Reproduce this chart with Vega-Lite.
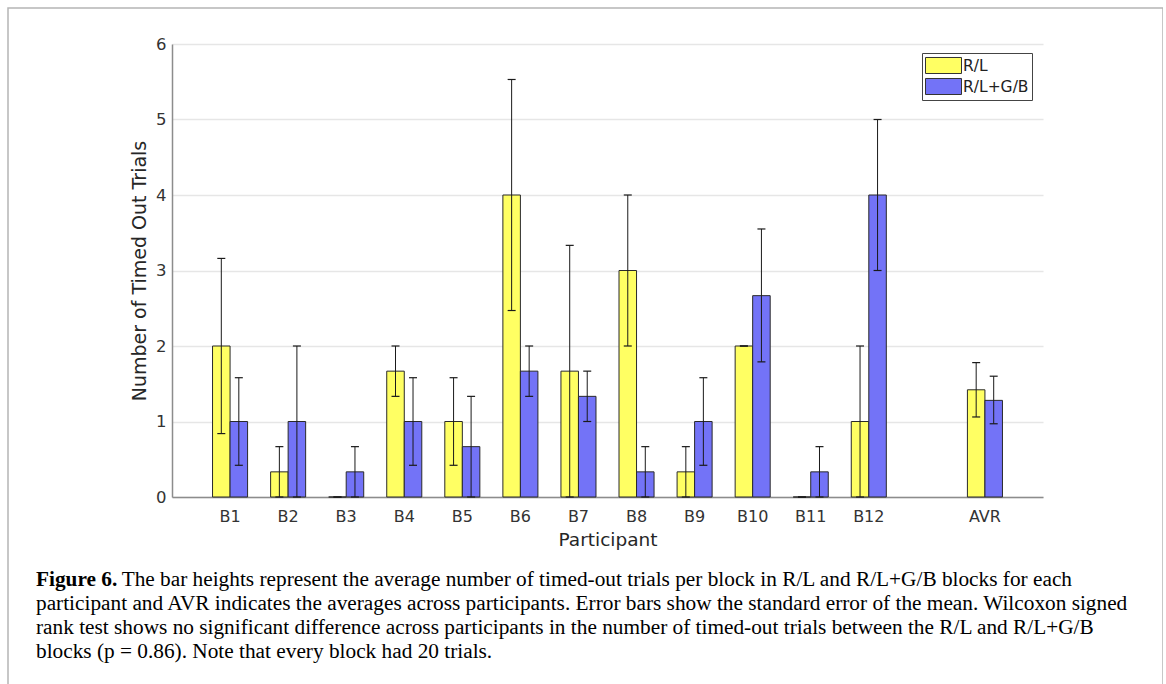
{
  "$schema": "https://vega.github.io/schema/vega-lite/v6.json",
  "width": 1155,
  "height": 700,
  "autosize": {"type": "none"},
  "padding": {"left": 8, "top": 8, "right": 0, "bottom": 0},
  "background": "white",
  "config": {
    "view": {"stroke": "#b5b5b5", "strokeWidth": 1.5}
  },
  "title": {
    "text": "Figure 6.",
    "subtitle": [
      "\u2800\u2800\u2800\u2800\u2800\u00a0 The bar heights represent the average number of timed-out trials per block in R/L and R/L+G/B blocks for each",
      "participant and AVR indicates the averages across participants. Error bars show the standard error of the mean. Wilcoxon signed",
      "rank test shows no significant difference across participants in the number of timed-out trials between the R/L and R/L+G/B",
      "blocks (p = 0.86). Note that every block had 20 trials."
    ],
    "orient": "bottom",
    "anchor": "start",
    "frame": "group",
    "offset": -139,
    "dx": 28,
    "font": "Liberation Serif",
    "fontSize": 21.3,
    "fontWeight": "bold",
    "color": "#000000",
    "subtitleFont": "Liberation Serif",
    "subtitleFontSize": 21.3,
    "subtitleColor": "#000000",
    "subtitleLineHeight": 24,
    "subtitlePadding": -21
  },
  "data": {
    "values": [
      {"participant": "B1", "condition": "R/L", "mean": 2, "lo": 0.84, "hi": 3.16},
      {"participant": "B1", "condition": "R/L+G/B", "mean": 1, "lo": 0.42, "hi": 1.58},
      {"participant": "B2", "condition": "R/L", "mean": 0.333, "lo": 0, "hi": 0.667},
      {"participant": "B2", "condition": "R/L+G/B", "mean": 1, "lo": 0, "hi": 2},
      {"participant": "B3", "condition": "R/L", "mean": 0, "lo": 0, "hi": 0},
      {"participant": "B3", "condition": "R/L+G/B", "mean": 0.333, "lo": 0, "hi": 0.667},
      {"participant": "B4", "condition": "R/L", "mean": 1.667, "lo": 1.333, "hi": 2},
      {"participant": "B4", "condition": "R/L+G/B", "mean": 1, "lo": 0.42, "hi": 1.58},
      {"participant": "B5", "condition": "R/L", "mean": 1, "lo": 0.42, "hi": 1.58},
      {"participant": "B5", "condition": "R/L+G/B", "mean": 0.667, "lo": 0, "hi": 1.333},
      {"participant": "B6", "condition": "R/L", "mean": 4, "lo": 2.47, "hi": 5.53},
      {"participant": "B6", "condition": "R/L+G/B", "mean": 1.667, "lo": 1.333, "hi": 2},
      {"participant": "B7", "condition": "R/L", "mean": 1.667, "lo": 0, "hi": 3.333},
      {"participant": "B7", "condition": "R/L+G/B", "mean": 1.333, "lo": 1, "hi": 1.667},
      {"participant": "B8", "condition": "R/L", "mean": 3, "lo": 2, "hi": 4},
      {"participant": "B8", "condition": "R/L+G/B", "mean": 0.333, "lo": 0, "hi": 0.667},
      {"participant": "B9", "condition": "R/L", "mean": 0.333, "lo": 0, "hi": 0.667},
      {"participant": "B9", "condition": "R/L+G/B", "mean": 1, "lo": 0.42, "hi": 1.58},
      {"participant": "B10", "condition": "R/L", "mean": 2, "lo": 2, "hi": 2},
      {"participant": "B10", "condition": "R/L+G/B", "mean": 2.667, "lo": 1.79, "hi": 3.55},
      {"participant": "B11", "condition": "R/L", "mean": 0, "lo": 0, "hi": 0},
      {"participant": "B11", "condition": "R/L+G/B", "mean": 0.333, "lo": 0, "hi": 0.667},
      {"participant": "B12", "condition": "R/L", "mean": 1, "lo": 0, "hi": 2},
      {"participant": "B12", "condition": "R/L+G/B", "mean": 4, "lo": 3, "hi": 5},
      {"participant": "AVR", "condition": "R/L", "mean": 1.42, "lo": 1.06, "hi": 1.78},
      {"participant": "AVR", "condition": "R/L+G/B", "mean": 1.28, "lo": 0.97, "hi": 1.6}
    ]
  },
  "encoding": {
    "x": {
      "field": "participant",
      "type": "nominal",
      "sort": null,
      "scale": {
        "type": "band",
        "domain": ["B1", "B2", "B3", "B4", "B5", "B6", "B7", "B8", "B9", "B10", "B11", "B12", " ", "AVR"],
        "range": [164, 1035],
        "paddingInner": 0,
        "paddingOuter": 0.5
      },
      "axis": {
        "title": "Participant",
        "offset": -211,
        "labelAngle": 0,
        "grid": false,
        "ticks": false,
        "domainColor": "#8c8c8c",
        "domainWidth": 1.5,
        "labelFont": "DejaVu Sans",
        "labelFontSize": 16,
        "labelColor": "#333333",
        "labelPadding": 11,
        "titleFont": "DejaVu Sans",
        "titleFontSize": 18.5,
        "titleFontWeight": "normal",
        "titleColor": "#262626",
        "titlePadding": 6
      }
    },
    "xOffset": {
      "field": "condition",
      "type": "nominal",
      "scale": {"domain": ["R/L", "R/L+G/B"], "paddingInner": 0, "paddingOuter": 0.657}
    }
  },
  "layer": [
    {
      "mark": {"type": "bar", "stroke": "#2a2a2a", "strokeWidth": 1, "opacity": 1},
      "encoding": {
        "y": {
          "field": "mean",
          "type": "quantitative",
          "scale": {"domain": [0, 6], "range": [489, 36], "nice": false, "zero": true},
          "axis": {
            "title": "Number of Timed Out Trials",
            "offset": -164,
            "values": [0, 1, 2, 3, 4, 5, 6],
            "format": "d",
            "grid": true,
            "gridColor": "#e6e6e6",
            "gridWidth": 1.5,
            "domainColor": "#8c8c8c",
            "domainWidth": 1.5,
            "ticks": false,
            "labelFont": "DejaVu Sans",
            "labelFontSize": 16.5,
            "labelColor": "#333333",
            "labelPadding": 6,
            "titleFont": "DejaVu Sans",
            "titleFontSize": 19,
            "titleFontWeight": "normal",
            "titleColor": "#262626",
            "titlePadding": 6
          }
        },
        "color": {
          "field": "condition",
          "type": "nominal",
          "scale": {"domain": ["R/L", "R/L+G/B"], "range": ["#ffff63", "#7373f7"]},
          "legend": {
            "orient": "none",
            "legendX": 914,
            "legendY": 45,
            "title": null,
            "symbolType": "M-2,-0.889H2V0.889H-2Z",
            "symbolSize": 324,
            "symbolOffset": 9,
            "symbolStrokeColor": "#333333",
            "symbolStrokeWidth": 1,
            "symbolOpacity": 1,
            "labelFont": "DejaVu Sans",
            "labelFontSize": 15.5,
            "labelColor": "#222222",
            "labelOffset": 10,
            "rowPadding": 0,
            "padding": 3,
            "strokeColor": "#444444",
            "fillColor": "white"
          }
        }
      }
    },
    {
      "mark": {"type": "rule", "color": "#1a1a1a", "strokeWidth": 1},
      "encoding": {
        "y": {"field": "lo", "type": "quantitative"},
        "y2": {"field": "hi"}
      }
    },
    {
      "mark": {"type": "tick", "color": "#1a1a1a", "thickness": 1.2, "size": 8, "opacity": 1},
      "encoding": {
        "y": {"field": "lo", "type": "quantitative"}
      }
    },
    {
      "mark": {"type": "tick", "color": "#1a1a1a", "thickness": 1.2, "size": 8, "opacity": 1},
      "encoding": {
        "y": {"field": "hi", "type": "quantitative"}
      }
    }
  ]
}
